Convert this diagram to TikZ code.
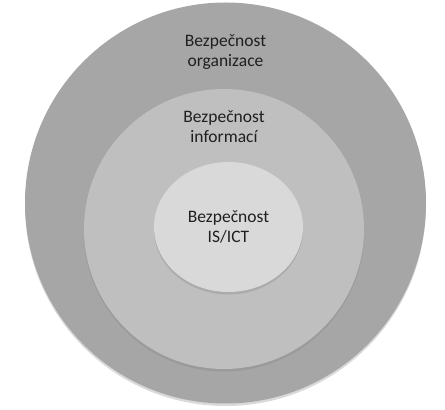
\documentclass[tikz,border=0pt]{standalone}
\usepackage{fontspec}
\setmainfont{Carlito}
\usetikzlibrary{shapes,shadows,positioning}
\tikzstyle{ring} = [circle, draw=none, inner sep=0pt,
    drop shadow={shadow xshift=0pt, shadow yshift=-2.5pt, opacity=0.3}]
\tikzstyle{ringtext} = [text=black!88, align=center, inner sep=0pt,
    font=\fontsize{17.5}{19.8}\selectfont]

\begin{document}
\begin{tikzpicture}[x=1pt,y=1pt]
\useasboundingbox (0,0) rectangle (445,410);

\node [ring, fill=black!35, minimum size=401pt] (outer) at (225.5,207) {};
\node [ring, fill=black!25, minimum size=280pt] (middle) at (224,181) {};
\node [ring, ellipse, fill=black!15, minimum width=149pt, minimum height=130pt,
    ringtext] (inner) at (228.5,183) {Bezpečnost\\IS/ICT};

\node [ringtext, below=32.5pt of outer.north] (outerlabel) {Bezpečnost\\organizace};
\node [ringtext, below=21.5pt of middle.north] (middlelabel) {Bezpečnost\\informací};

\end{tikzpicture}
\end{document}
